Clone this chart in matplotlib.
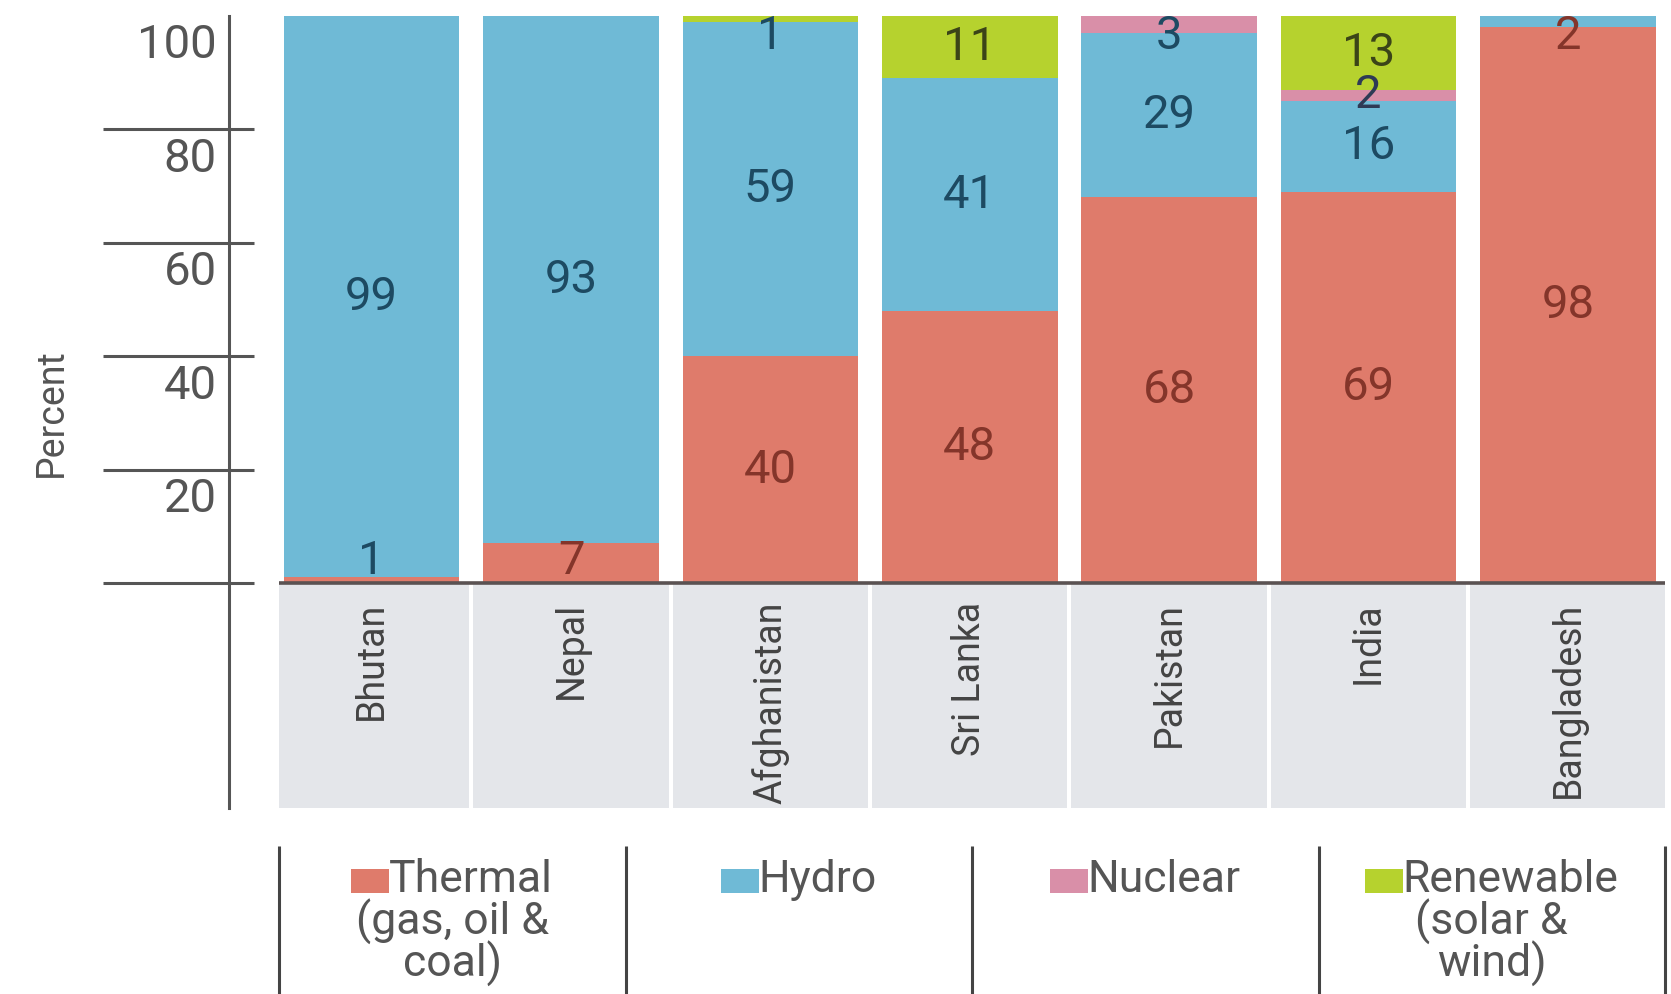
import matplotlib
matplotlib.use("Agg")
import matplotlib.pyplot as plt
import matplotlib.transforms as mtransforms
from matplotlib import font_manager
from matplotlib.patches import Rectangle
import numpy as np

# data (percent of generation)
countries = ["Bhutan", "Nepal", "Afghanistan", "Sri Lanka", "Pakistan", "India", "Bangladesh"]
thermal = [1, 7, 40, 48, 68, 69, 98]
hydro = [99, 93, 59, 41, 29, 16, 2]
nuclear = [0, 0, 0, 0, 3, 2, 0]
renewable = [0, 0, 1, 11, 0, 13, 0]
yticks = [20, 40, 60, 80, 100]

series = [thermal, hydro, nuclear, renewable]
colors = ["#df7b6b", "#6fbad6", "#d98fa8", "#b6d22e"]
text_colors = ["#84352a", "#1d4a62", "#2e3a55", "#3b4418"]
legend_lines = [["Thermal", "(gas, oil &", "coal)"], ["Hydro"], ["Nuclear"],
                ["Renewable", "(solar &", "wind)"]]

W, H = 1671, 994
GREY = "#555555"
installed = {f.name for f in font_manager.fontManager.ttflist}
narrow = "Liberation Sans Narrow" in installed
rot_family = ["Liberation Sans Narrow", "Roboto"] if narrow else ["Roboto"]
rot_size = 33 if narrow else 27
plt.rcParams["font.family"] = ["Roboto", "DejaVu Sans"]

fig = plt.figure(figsize=(W / 100, H / 100), dpi=100)
ax = fig.add_axes([272 / W, (H - 583) / H, 1395.6 / W, 567 / H])
ax.set_xlim(-0.5, 6.5)
ax.set_ylim(0, 100)

x = np.arange(len(countries))
bottom = np.zeros(len(countries))
for vals, c in zip(series, colors):
    ax.bar(x, vals, bottom=bottom, width=0.88, color=c, zorder=2)
    bottom += np.array(vals)

# value labels, coloured after the segment they sit on
cum = np.cumsum(np.array(series), axis=0)
for i in range(len(countries)):
    for s, vals in enumerate(series):
        v = vals[i]
        if v == 0:
            continue
        yc = cum[s, i] - v / 2
        yc = min(max(yc, 3.8), 96.5)
        seg = int(np.searchsorted(cum[:, i], yc))
        ax.text(x[i], yc, str(v), ha="center", va="center", fontsize=34,
                color=text_colors[min(seg, 3)], zorder=4)

# grey label strip under the bars
lefts = np.r_[-0.466, x[1:] - 0.49]
rights = np.r_[x[:-1] + 0.49, 6.488]
ax.bar(lefts, -39.6, width=rights - lefts, align="edge", color="#e4e6ea",
       zorder=0, clip_on=False)

# axis line and ticks
for name in ["top", "right", "bottom"]:
    ax.spines[name].set_visible(False)
ax.spines["left"].set_position(("data", -0.717))
ax.spines["left"].set_bounds(-39.6, 100)
ax.spines["left"].set_linewidth(2.2)
ax.spines["left"].set_color(GREY)
ax.hlines([0, 20, 40, 60, 80], -1.349, -0.592, color=GREY, lw=2.2, clip_on=False, zorder=3)
ax.hlines(0, -0.466, 6.488, color="#5a5252", lw=2.6, clip_on=False, zorder=3)

ax.set_yticks(yticks, [str(t) for t in yticks])
ax.tick_params(axis="y", length=0, pad=8.6, labelsize=34, labelcolor=GREY)
offset = mtransforms.ScaledTranslation(0, -0.25, fig.dpi_scale_trans)
for lab in ax.get_yticklabels():
    lab.set_transform(lab.get_transform() + offset)

ax.set_xticks(x, countries, rotation=90)
ax.tick_params(axis="x", length=0, pad=13.7, labelcolor="#444444")
for lab in ax.get_xticklabels():
    lab.set_family(rot_family)
    lab.set_fontsize(rot_size)

ax.set_ylabel("Percent", color=GREY, family=rot_family, fontsize=rot_size)
ax.yaxis.set_label_coords(-0.1447, 0.30)

# legend row with dividers
lg = fig.add_axes([0, 0, 1, 1])
lg.set_xlim(0, W)
lg.set_ylim(H, 0)
lg.axis("off")
edges = np.linspace(279, 1665, 5)
lg.vlines(edges, 846, H, color="#444444", lw=2.2)
fig.canvas.draw()
renderer = fig.canvas.get_renderer()
sq_w, sq_h = 38, 24
line_y = [880, 922, 964]
for k, lines in enumerate(legend_lines):
    cx = (edges[k] + edges[k + 1]) / 2
    first = lg.text(cx + sq_w / 2, line_y[0], lines[0], ha="center", va="center",
                    fontsize=32, color=GREY)
    bb = first.get_window_extent(renderer)
    lg.add_patch(Rectangle((bb.x0 - sq_w, line_y[0] - sq_h / 2 + 1), sq_w, sq_h,
                           color=colors[k], lw=0))
    for j, line in enumerate(lines[1:], start=1):
        lg.text(cx, line_y[j], line, ha="center", va="center", fontsize=32, color=GREY)

fig.savefig("out.png", dpi=100)
